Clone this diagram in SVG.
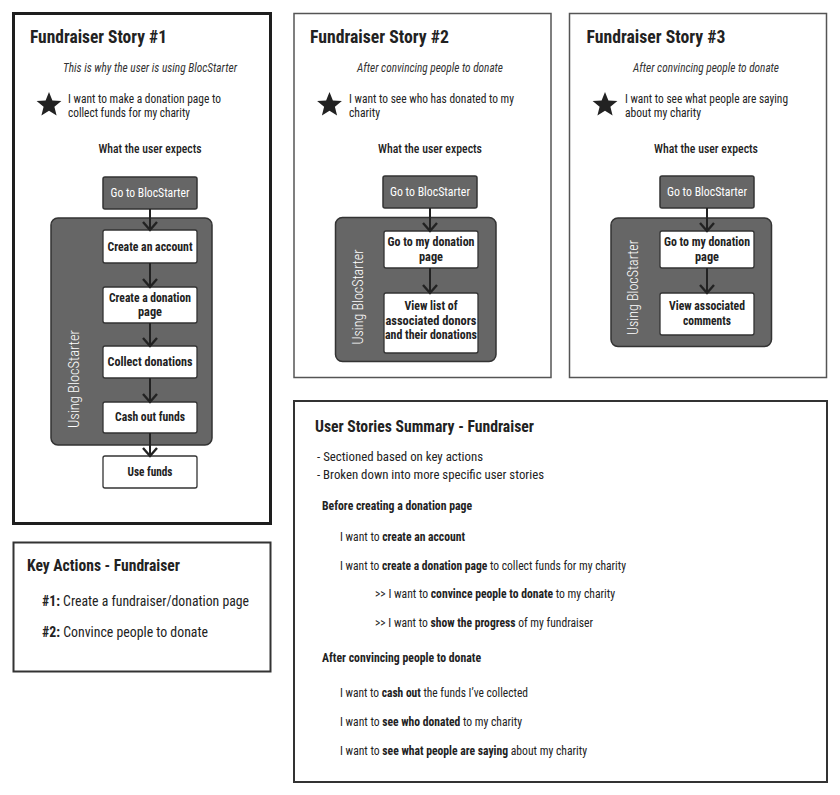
<svg xmlns="http://www.w3.org/2000/svg" width="840" height="795" viewBox="0 0 840 795">
<defs>
<style>
text{font-family:"Roboto Condensed",Roboto,"Liberation Sans",sans-serif;fill:#222;}
.title{font-size:17.5px;font-weight:bold;}
.sub{font-size:12px;font-style:italic;text-anchor:middle;fill:#333;}
.want{font-size:12.5px;}
.exp{font-size:13px;font-weight:500;text-anchor:middle;}
.dark{fill:#666;stroke:#333;stroke-width:1.5;}
.wbox{fill:#fff;stroke:#333;stroke-width:1.3;}
.cont{fill:#666;stroke:#333;stroke-width:1.5;}
.wt{font-size:13px;fill:#fff;text-anchor:middle;}
.bt{font-size:12.5px;font-weight:bold;text-anchor:middle;}
.using{font-size:14.5px;font-weight:300;fill:#fff;text-anchor:middle;}
.frame{fill:#fff;stroke:#555;stroke-width:1.5;}
.conn{stroke:#222;stroke-width:2;fill:none;marker-end:url(#chev);}
.h2{font-size:16px;font-weight:bold;}
.ka{font-size:14px;}
.s{font-size:12px;}
.sb{font-size:12.5px;}
.sh{font-size:12px;font-weight:bold;}
.b{font-weight:bold;}
</style>
<marker id="chev" viewBox="0 0 10 16" refX="9" refY="8" markerWidth="10" markerHeight="16" markerUnits="userSpaceOnUse" orient="auto" overflow="visible">
<path d="M1,1 L9,8 L1,15" fill="none" stroke="#222" stroke-width="2.4"/>
</marker>
<path id="star" d="M0,-13 L3.4,-4.6 L12.4,-4 L5.4,1.8 L7.6,10.5 L0,5.7 L-7.6,10.5 L-5.4,1.8 L-12.4,-4 L-3.4,-4.6 Z" fill="#222"/>
</defs>
<rect width="840" height="795" fill="#fff"/>

<!-- Story 1 -->
<g id="story1">
<rect x="13.5" y="13.5" width="257" height="510" fill="#fff" stroke="#1e1e1e" stroke-width="3"/>
<text class="title" x="30" y="43" textLength="137" lengthAdjust="spacingAndGlyphs">Fundraiser Story #1</text>
<text class="sub" x="150" y="72" textLength="174" lengthAdjust="spacingAndGlyphs">This is why the user is using BlocStarter</text>
<use href="#star" x="49" y="105"/>
<text class="want" x="68" y="102.5" textLength="153" lengthAdjust="spacingAndGlyphs">I want to make a donation page to</text>
<text class="want" x="68" y="117" textLength="122" lengthAdjust="spacingAndGlyphs">collect funds for my charity</text>
<text class="exp" x="150" y="153" textLength="103" lengthAdjust="spacingAndGlyphs">What the user expects</text>
</g>
<g id="s1-go">
<rect class="dark" x="103" y="177" width="94" height="32" rx="2"/>
<text class="wt" x="150" y="197" textLength="79" lengthAdjust="spacingAndGlyphs">Go to BlocStarter</text>
</g>
<g id="s1-using">
<rect class="cont" x="51" y="218" width="161" height="227" rx="7"/>
<text class="using" transform="translate(79,379) rotate(-90)" textLength="98" lengthAdjust="spacingAndGlyphs">Using BlocStarter</text>
</g>
<g id="s1-account">
<rect class="wbox" x="103" y="230" width="94" height="33" rx="2"/>
<text class="bt" x="150" y="250.5" textLength="85" lengthAdjust="spacingAndGlyphs">Create an account</text>
</g>
<g id="s1-create">
<rect class="wbox" x="103" y="287" width="94" height="36" rx="2"/>
<text class="bt" x="150" y="302" textLength="82" lengthAdjust="spacingAndGlyphs">Create a donation</text>
<text class="bt" x="150" y="316" textLength="24" lengthAdjust="spacingAndGlyphs">page</text>
</g>
<g id="s1-collect">
<rect class="wbox" x="103" y="346" width="94" height="32" rx="2"/>
<text class="bt" x="150" y="366" textLength="85" lengthAdjust="spacingAndGlyphs">Collect donations</text>
</g>
<g id="s1-cash">
<rect class="wbox" x="103" y="402" width="94" height="31" rx="2"/>
<text class="bt" x="150" y="421" textLength="70" lengthAdjust="spacingAndGlyphs">Cash out funds</text>
</g>
<g id="s1-use">
<rect class="wbox" x="103" y="456" width="94" height="32" rx="2"/>
<text class="bt" x="150" y="476" textLength="45" lengthAdjust="spacingAndGlyphs">Use funds</text>
</g>

<!-- Story 2 -->
<g id="story2">
<rect class="frame" x="294" y="13.5" width="257" height="364"/>
<text class="title" x="310" y="43" textLength="139" lengthAdjust="spacingAndGlyphs">Fundraiser Story #2</text>
<text class="sub" x="430" y="72" textLength="146" lengthAdjust="spacingAndGlyphs">After convincing people to donate</text>
<use href="#star" x="329.5" y="105"/>
<text class="want" x="349" y="102.5" textLength="165" lengthAdjust="spacingAndGlyphs">I want to see who has donated to my</text>
<text class="want" x="349" y="117" textLength="31" lengthAdjust="spacingAndGlyphs">charity</text>
<text class="exp" x="430" y="153" textLength="104" lengthAdjust="spacingAndGlyphs">What the user expects</text>
</g>
<g id="s2-go">
<rect class="dark" x="383" y="176" width="94" height="32" rx="2"/>
<text class="wt" x="430" y="196" textLength="80" lengthAdjust="spacingAndGlyphs">Go to BlocStarter</text>
</g>
<g id="s2-using">
<rect class="cont" x="335.5" y="217.5" width="160.5" height="144" rx="7"/>
<text class="using" transform="translate(363,297) rotate(-90)" textLength="95" lengthAdjust="spacingAndGlyphs">Using BlocStarter</text>
</g>
<g id="s2-page">
<rect class="wbox" x="384" y="231" width="94" height="37" rx="2"/>
<text class="bt" x="431" y="246" textLength="87" lengthAdjust="spacingAndGlyphs">Go to my donation</text>
<text class="bt" x="431" y="261" textLength="24" lengthAdjust="spacingAndGlyphs">page</text>
</g>
<g id="s2-view">
<rect class="wbox" x="384" y="293" width="94" height="60" rx="2"/>
<text class="bt" x="431" y="310" textLength="53" lengthAdjust="spacingAndGlyphs">View list of</text>
<text class="bt" x="431" y="325" textLength="91" lengthAdjust="spacingAndGlyphs">associated donors</text>
<text class="bt" x="431" y="339" textLength="92" lengthAdjust="spacingAndGlyphs">and their donations</text>
</g>

<!-- Story 3 -->
<g id="story3">
<rect class="frame" x="569.5" y="13.5" width="257" height="364"/>
<text class="title" x="586.5" y="43" textLength="139" lengthAdjust="spacingAndGlyphs">Fundraiser Story #3</text>
<text class="sub" x="706" y="72" textLength="146" lengthAdjust="spacingAndGlyphs">After convincing people to donate</text>
<use href="#star" x="605" y="105"/>
<text class="want" x="625" y="102.5" textLength="163" lengthAdjust="spacingAndGlyphs">I want to see what people are saying</text>
<text class="want" x="625" y="117" textLength="76" lengthAdjust="spacingAndGlyphs">about my charity</text>
<text class="exp" x="706" y="153" textLength="104" lengthAdjust="spacingAndGlyphs">What the user expects</text>
</g>
<g id="s3-go">
<rect class="dark" x="660" y="176" width="94" height="32" rx="2"/>
<text class="wt" x="707" y="196" textLength="80" lengthAdjust="spacingAndGlyphs">Go to BlocStarter</text>
</g>
<g id="s3-using">
<rect class="cont" x="611" y="218" width="160.5" height="128.5" rx="7"/>
<text class="using" transform="translate(638,287.5) rotate(-90)" textLength="95" lengthAdjust="spacingAndGlyphs">Using BlocStarter</text>
</g>
<g id="s3-page">
<rect class="wbox" x="660" y="231" width="94" height="37" rx="2"/>
<text class="bt" x="707" y="246" textLength="86" lengthAdjust="spacingAndGlyphs">Go to my donation</text>
<text class="bt" x="707" y="261" textLength="24" lengthAdjust="spacingAndGlyphs">page</text>
</g>
<g id="s3-view">
<rect class="wbox" x="660" y="293" width="94" height="42" rx="2"/>
<text class="bt" x="707" y="310" textLength="76" lengthAdjust="spacingAndGlyphs">View associated</text>
<text class="bt" x="707" y="325" textLength="48" lengthAdjust="spacingAndGlyphs">comments</text>
</g>

<!-- Connectors -->
<g id="connectors">
<path class="conn" d="M150,209 V230"/>
<path class="conn" d="M150,263 V287"/>
<path class="conn" d="M150,323 V346"/>
<path class="conn" d="M150,378 V402"/>
<path class="conn" d="M150,433 V456"/>
<path class="conn" d="M430,208 V231"/>
<path class="conn" d="M430,268 V293"/>
<path class="conn" d="M707,208 V231"/>
<path class="conn" d="M707,268 V293"/>
</g>

<!-- Key actions -->
<g id="key-actions">
<rect x="13.5" y="542.5" width="257" height="129" fill="#fff" stroke="#333" stroke-width="2"/>
<text class="h2" x="27" y="571" textLength="153" lengthAdjust="spacingAndGlyphs">Key Actions - Fundraiser</text>
<text class="ka" x="42" y="606" textLength="207" lengthAdjust="spacingAndGlyphs"><tspan class="b">#1:</tspan> Create a fundraiser/donation page</text>
<text class="ka" x="42" y="637" textLength="166" lengthAdjust="spacingAndGlyphs"><tspan class="b">#2:</tspan> Convince people to donate</text>
</g>

<!-- Summary -->
<g id="summary">
<rect x="294" y="401" width="533" height="381" fill="#fff" stroke="#333" stroke-width="2"/>
<text class="h2" x="315" y="432" textLength="219" lengthAdjust="spacingAndGlyphs">User Stories Summary - Fundraiser</text>
<text class="sb" x="317" y="461" textLength="166" lengthAdjust="spacingAndGlyphs">- Sectioned based on key actions</text>
<text class="sb" x="317" y="479" textLength="227" lengthAdjust="spacingAndGlyphs">- Broken down into more specific user stories</text>
<text class="sh" x="322" y="510" textLength="150" lengthAdjust="spacingAndGlyphs">Before creating a donation page</text>
<text class="s" x="340" y="541" textLength="125" lengthAdjust="spacingAndGlyphs">I want to <tspan class="b">create an account</tspan></text>
<text class="s" x="340" y="570" textLength="286" lengthAdjust="spacingAndGlyphs">I want to <tspan class="b">create a donation page</tspan> to collect funds for my charity</text>
<text class="s" x="375" y="598" textLength="240" lengthAdjust="spacingAndGlyphs">&gt;&gt; I want to <tspan class="b">convince people to donate</tspan> to my charity</text>
<text class="s" x="375" y="627" textLength="218" lengthAdjust="spacingAndGlyphs">&gt;&gt; I want to <tspan class="b">show the progress</tspan> of my fundraiser</text>
<text class="sh" x="322" y="662" textLength="159" lengthAdjust="spacingAndGlyphs">After convincing people to donate</text>
<text class="s" x="340" y="697" textLength="188" lengthAdjust="spacingAndGlyphs">I want to <tspan class="b">cash out</tspan> the funds I’ve collected</text>
<text class="s" x="340" y="726" textLength="182" lengthAdjust="spacingAndGlyphs">I want to <tspan class="b">see who donated</tspan> to my charity</text>
<text class="s" x="340" y="755" textLength="247" lengthAdjust="spacingAndGlyphs">I want to <tspan class="b">see what people are saying</tspan> about my charity</text>
</g>
</svg>
